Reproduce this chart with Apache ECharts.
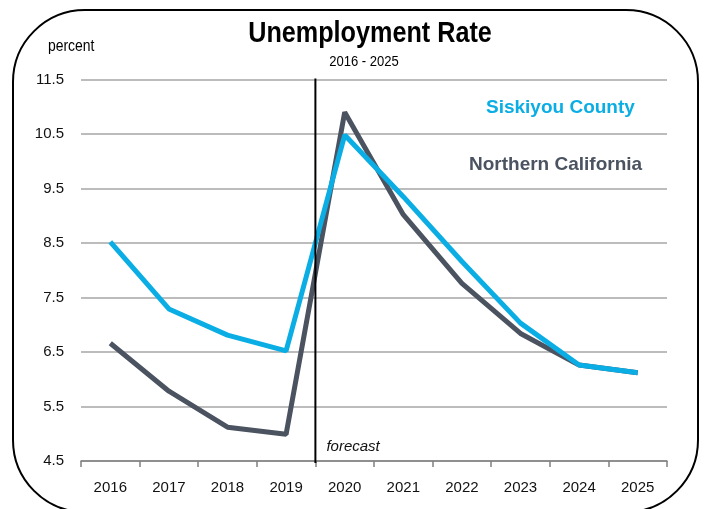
<!DOCTYPE html>
<html><head><meta charset="utf-8">
<script src="https://cdn.jsdelivr.net/npm/echarts@6/dist/echarts.min.js"></script>
<style>html,body{margin:0;padding:0;background:#fff}#c{width:708px;height:509px}</style>
</head><body><div id="c"></div>
<script>
var years = ['2016','2017','2018','2019','2020','2021','2022','2023','2024','2025'];
var siskiyou = [8.52, 7.29, 6.81, 6.52, 10.48, 9.35, 8.16, 7.03, 6.26, 6.12];
var norcal = [6.66, 5.78, 5.12, 4.99, 10.9, 9.02, 7.76, 6.84, 6.26, 6.12];
var yTicks = [4.5, 5.5, 6.5, 7.5, 8.5, 9.5, 10.5, 11.5];
var forecastStart = '2020';

var F = '"Liberation Sans",Arial,sans-serif';
var BLUE = '#0AAEE4', GRAY = '#4B5361';
var chart = echarts.init(document.getElementById('c'));
chart.setOption({
  animation: false,
  legend: [
    {data: [{name: 'Siskiyou County', textStyle: {color: BLUE}}], left: 476, top: 93, icon: 'none',
     itemWidth: 0, itemGap: 0, textStyle: {fontFamily: F, fontSize: 19, fontWeight: 'bold'}},
    {data: [{name: 'Northern California', textStyle: {color: GRAY}}], left: 459, top: 150, icon: 'none',
     itemWidth: 0, itemGap: 0, textStyle: {fontFamily: F, fontSize: 19, fontWeight: 'bold'}}
  ],
  grid: {left: 81, right: 41, top: 79.5, bottom: 48, containLabel: false},
  xAxis: {
    type: 'category', data: years, boundaryGap: true,
    axisLine: {lineStyle: {color: '#808080', width: 1.5}},
    axisTick: {show: true, length: 6, lineStyle: {color: '#808080', width: 1.5}},
    axisLabel: {fontFamily: F, fontSize: 15, color: '#111', margin: 19}
  },
  yAxis: {
    type: 'value', min: yTicks[0], max: yTicks[yTicks.length - 1], interval: 1,
    axisLine: {show: false}, axisTick: {show: false},
    axisLabel: {fontFamily: F, fontSize: 15, color: '#111', margin: 17,
      formatter: function (v) { return v.toFixed(1); }},
    splitLine: {lineStyle: {color: '#A6A6A6', width: 1.5}}
  },
  series: [
    {name: 'Northern California', type: 'line', data: norcal, symbol: 'none',
     lineStyle: {color: GRAY, width: 5}, itemStyle: {color: GRAY}, z: 2},
    {name: 'Siskiyou County', type: 'line', data: siskiyou, symbol: 'none',
     lineStyle: {color: BLUE, width: 5}, itemStyle: {color: BLUE}, z: 3}
  ]
});
var idx = years.indexOf(forecastStart);
var xa = chart.convertToPixel({xAxisIndex: 0}, years[idx - 1]);
var xb = chart.convertToPixel({xAxisIndex: 0}, years[idx]);
var xm = (xa + xb) / 2;
var yTop = chart.convertToPixel({yAxisIndex: 0}, yTicks[yTicks.length - 1]);
var yBot = chart.convertToPixel({yAxisIndex: 0}, yTicks[0]);
chart.setOption({
  graphic: [
    {type: 'rect', shape: {x: 13, y: 10, width: 685, height: 502, r: 72},
     style: {fill: 'none', stroke: '#000', lineWidth: 2}, z: 0, silent: true},
    {type: 'text', x: 370, y: 19, scaleX: 0.84,
     style: {text: 'Unemployment Rate', font: 'bold 30px ' + F, fill: '#000', textAlign: 'center'}},
    {type: 'text', x: 364, y: 54, scaleX: 0.87,
     style: {text: '2016 - 2025', font: '15px ' + F, fill: '#000', textAlign: 'center'}},
    {type: 'text', x: 48, y: 39, scaleX: 0.87,
     style: {text: 'percent', font: '16px ' + F, fill: '#000', textAlign: 'left'}},
    {type: 'line', shape: {x1: xm, y1: yTop - 1, x2: xm, y2: yBot + 2},
     style: {stroke: '#000', lineWidth: 2}, z: 10},
    {type: 'text', x: xm + 11, y: yBot - 22,
     style: {text: 'forecast', font: 'italic 15px ' + F, fill: '#111'}, z: 10}
  ]
});
</script></body></html>
